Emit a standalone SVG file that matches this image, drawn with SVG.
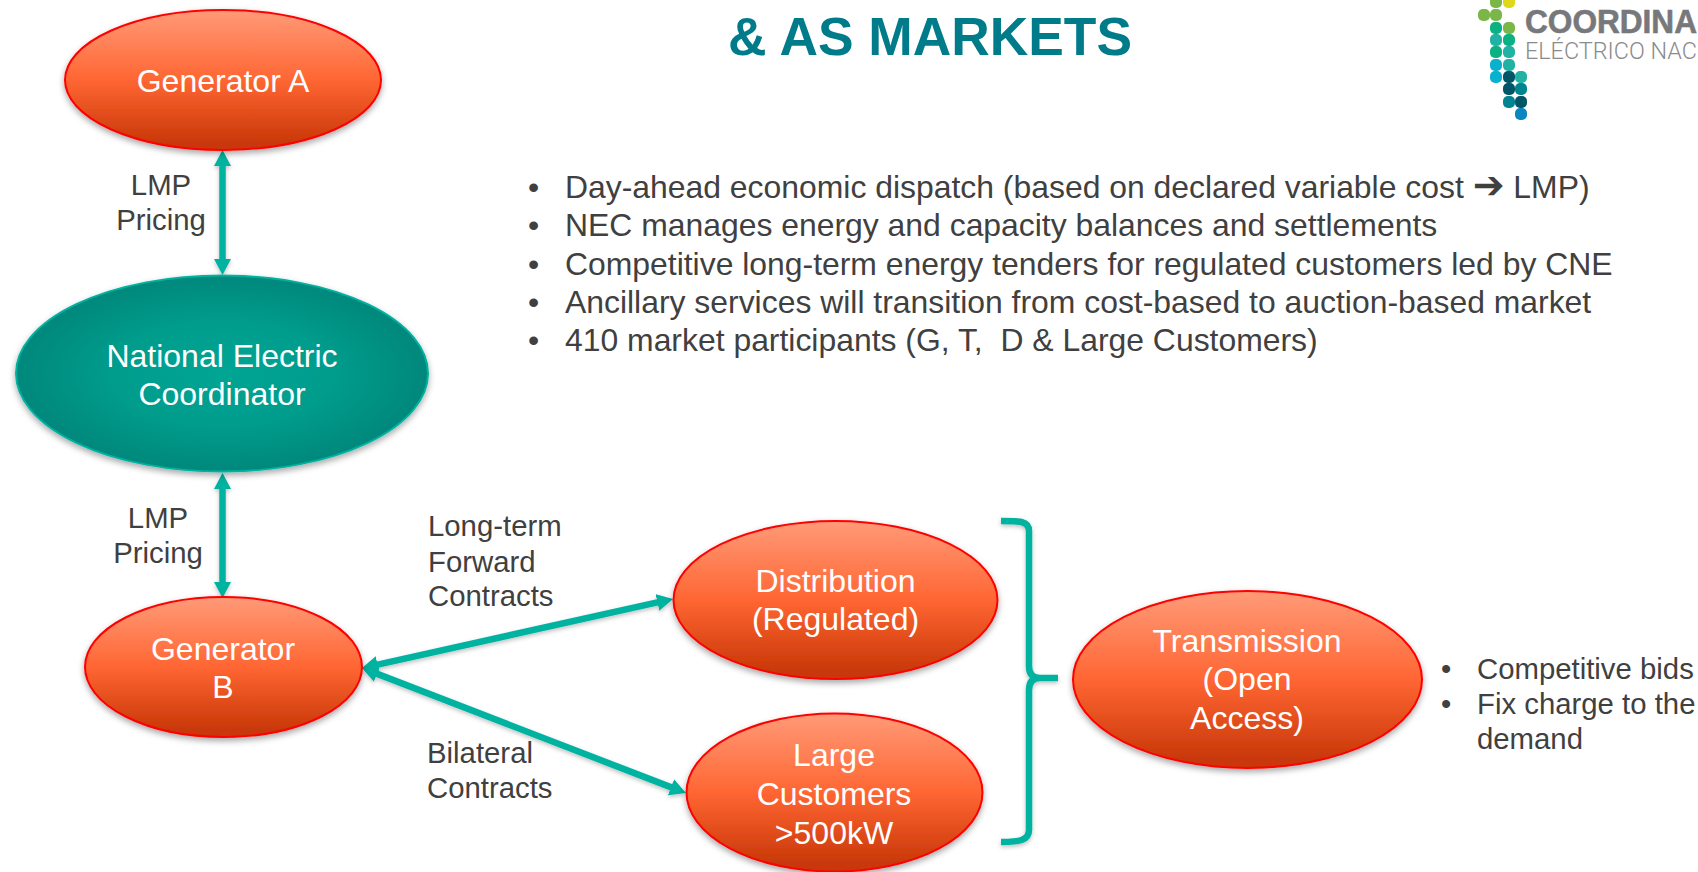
<svg xmlns="http://www.w3.org/2000/svg" width="1698" height="872" viewBox="0 0 1698 872">
<style>
text{font-family:"Liberation Sans",Arial,sans-serif}
.n{fill:#fff;font-size:32px;text-anchor:middle}
.l{fill:#404040;font-size:29.33px}
.b{fill:#404040;font-size:31.900px;white-space:pre}
.e{stroke:#f00;stroke-width:2;fill:url(#o);filter:url(#sh)}
.c{fill:none;stroke:#00b2a0;stroke-width:6.500}
.d{rx:5px;ry:5px;width:12px;height:12px}
</style>
<defs>
<linearGradient id="o" x1="0" y1="0" x2="0" y2="1"><stop offset="0" stop-color="#ff9a78"/><stop offset=".5" stop-color="#ff6633"/><stop offset=".95" stop-color="#c93808"/><stop offset="1" stop-color="#c93808"/></linearGradient>
<radialGradient id="t" cx=".5" cy=".5" r=".6"><stop offset="0" stop-color="#00a594"/><stop offset=".45" stop-color="#009c8c"/><stop offset="1" stop-color="#007f74"/></radialGradient>
<filter id="sh" x="-10%" y="-10%" width="120%" height="125%"><feDropShadow dx="0" dy="3" stdDeviation="3" flood-color="#000" flood-opacity=".35"/></filter>
<filter id="sl" x="-5%" y="-5%" width="110%" height="110%"><feDropShadow dx="0" dy="2" stdDeviation="2" flood-color="#000" flood-opacity=".25"/></filter>
<marker id="a" markerUnits="userSpaceOnUse" markerWidth="18" markerHeight="18" refX="8" refY="9" orient="auto-start-reverse"><path d="M0 0.500L16 9L0 17.500Z" fill="#00b2a0"/></marker>
</defs>
<text x="930" y="55" text-anchor="middle" style="font-size:53.33px;font-weight:700;fill:#007b8a">&amp; AS MARKETS</text>
<g id="logo">
<g fill="#7ab648"><rect class="d" x="1490" y="-4"/><rect class="d" x="1478" y="9"/><rect class="d" x="1490" y="9"/><rect class="d" x="1503" y="22"/></g>
<rect class="d" x="1503" y="-4" fill="#dfd81a"/>
<g fill="#0cb183"><rect class="d" x="1490" y="22"/><rect class="d" x="1503" y="34"/><rect class="d" x="1490" y="46"/></g>
<g fill="#22b2a5"><rect class="d" x="1490" y="34"/><rect class="d" x="1503" y="46"/><rect class="d" x="1503" y="59"/><rect class="d" x="1515" y="71"/></g>
<g fill="#08b2cf"><rect class="d" x="1490" y="59"/><rect class="d" x="1490" y="71"/></g>
<g fill="#005566"><rect class="d" x="1503" y="71"/><rect class="d" x="1503" y="83"/><rect class="d" x="1515" y="96"/></g>
<g fill="#008590"><rect class="d" x="1515" y="83"/><rect class="d" x="1503" y="96"/></g>
<rect class="d" x="1515" y="108" fill="#0a86c0"/>
<text x="1525" y="33" textLength="172" lengthAdjust="spacingAndGlyphs" style="font-size:33.500px;font-weight:700;fill:#77787b;stroke:#77787b;stroke-width:.6">COORDINA</text>
<text x="1525" y="59" textLength="172" lengthAdjust="spacingAndGlyphs" style="font-family:Roboto,'Liberation Sans',sans-serif;font-size:24px;font-weight:300;fill:#8a8b8d">ELÉCTRICO NAC</text>
</g>
<g id="connectors" filter="url(#sl)">
<path class="c" d="M222.500 158V267" marker-start="url(#a)" marker-end="url(#a)"/>
<path class="c" d="M222.500 481V590" marker-start="url(#a)" marker-end="url(#a)"/>
<path class="c" d="M369.800 666.300L665.200 600.700" marker-start="url(#a)" marker-end="url(#a)"/>
<path class="c" d="M369.500 670.900L678.500 790.100" marker-start="url(#a)" marker-end="url(#a)"/>
<path class="c" d="M1001 521C1020 521 1029 521 1029 531V666Q1029 678 1040 678H1058M1040 678Q1029 678 1029 690V830C1029 840 1020 842 1001 842"/>
</g>
<g id="gen-a"><ellipse class="e" cx="223" cy="80" rx="158" ry="70"/><text class="n" x="223" y="92">Generator A</text></g>
<g id="nec"><ellipse cx="222" cy="373.500" rx="206" ry="98" fill="url(#t)" stroke="#00b2a0" stroke-width="2" filter="url(#sh)"/><text class="n" x="222" y="367">National Electric</text><text class="n" x="222" y="405">Coordinator</text></g>
<g id="gen-b"><ellipse class="e" cx="223.500" cy="667" rx="138.500" ry="70"/><text class="n" x="223" y="660">Generator</text><text class="n" x="223" y="698">B</text></g>
<g id="dist"><ellipse class="e" cx="835.500" cy="600" rx="162" ry="79"/><text class="n" x="835.500" y="592">Distribution</text><text class="n" x="835.500" y="630">(Regulated)</text></g>
<g id="large"><ellipse class="e" cx="834.500" cy="792.500" rx="148" ry="79"/><text class="n" x="834" y="766">Large</text><text class="n" x="834" y="805">Customers</text><text class="n" x="834" y="844">&gt;500kW</text></g>
<g id="trans"><ellipse class="e" cx="1247.500" cy="679.500" rx="174.500" ry="88.500"/><text class="n" x="1247" y="652">Transmission</text><text class="n" x="1247" y="690">(Open</text><text class="n" x="1247" y="729">Access)</text></g>
<g id="labels">
<text class="l" x="161" y="195" text-anchor="middle">LMP</text><text class="l" x="161" y="230" text-anchor="middle">Pricing</text>
<text class="l" x="158" y="528" text-anchor="middle">LMP</text><text class="l" x="158" y="563" text-anchor="middle">Pricing</text>
<text class="l" x="428" y="536">Long-term</text><text class="l" x="428" y="571.500">Forward</text><text class="l" x="428" y="606">Contracts</text>
<text class="l" x="427" y="763">Bilateral</text><text class="l" x="427" y="798">Contracts</text>
</g>
<g id="bullets">
<text class="b" x="528" y="198">•</text><text class="b" x="565" y="198">Day-ahead economic dispatch (based on declared variable cost <tspan style="font-family:'DejaVu Sans',sans-serif;font-size:38px">➔</tspan> LMP)</text>
<text class="b" x="528" y="236">•</text><text class="b" x="565" y="236">NEC manages energy and capacity balances and settlements</text>
<text class="b" x="528" y="275">•</text><text class="b" x="565" y="275">Competitive long-term energy tenders for regulated customers led by CNE</text>
<text class="b" x="528" y="313">•</text><text class="b" x="565" y="313">Ancillary services will transition from cost-based to auction-based market</text>
<text class="b" x="528" y="350.500">•</text><text class="b" x="565" y="350.500">410 market participants (G, T,  D &amp; Large Customers)</text>
</g>
<g id="notes">
<text class="l" x="1441" y="678.500">•</text><text class="l" x="1477" y="678.500">Competitive bids</text>
<text class="l" x="1441" y="713.500">•</text><text class="l" x="1477" y="713.500">Fix charge to the</text>
<text class="l" x="1477" y="748.500">demand</text>
</g>
</svg>
